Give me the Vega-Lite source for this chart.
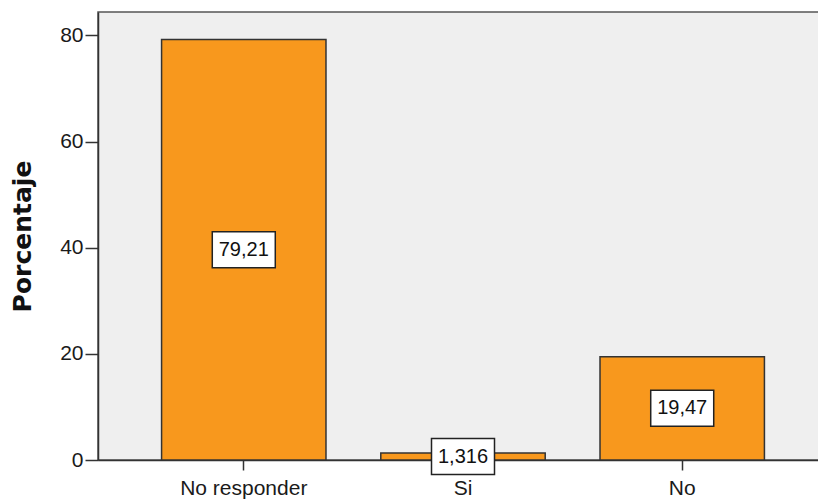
{
  "$schema": "https://vega.github.io/schema/vega-lite/v6.json",
  "autosize": {"type": "none"},
  "padding": {"left": 98, "top": 12, "right": 0, "bottom": 39},
  "width": 730,
  "height": 448,
  "background": "white",
  "config": {
    "view": {"fill": "#efefef", "stroke": "#555555", "strokeWidth": 1.5},
    "font": "Liberation Sans"
  },
  "data": {
    "values": [
      {"cat": "No responder", "pct": 79.21, "label": "79,21"},
      {"cat": "Si", "pct": 1.316, "label": "1,316"},
      {"cat": "No", "pct": 19.47, "label": "19,47"}
    ]
  },
  "encoding": {
    "x": {
      "field": "cat", "type": "nominal", "sort": null,
      "scale": {"paddingInner": 0.25, "paddingOuter": 0.29},
      "axis": {
        "title": null, "labelAngle": 0, "labelFontSize": 21, "labelColor": "#1a1a1a",
        "domainColor": "#333", "domainWidth": 1.5, "tickColor": "#333", "tickWidth": 1.5,
        "tickSize": 10, "labelPadding": 7, "labelFont": "Liberation Sans"
      }
    }
  },
  "layer": [
    {
      "mark": {"type": "bar", "fill": "#f8981d", "stroke": "#333333", "strokeWidth": 1.5},
      "encoding": {
        "y": {
          "field": "pct", "type": "quantitative",
          "scale": {"domain": [0, 84.4], "nice": false},
          "axis": {
            "title": "Porcentaje", "titleFontSize": 25, "titleFontWeight": "bold", "titleColor": "#111",
            "titlePadding": 24, "values": [0, 20, 40, 60, 80], "grid": false,
            "labelFontSize": 21, "labelColor": "#1a1a1a", "domainColor": "#333", "domainWidth": 1.5,
            "tickColor": "#333", "tickWidth": 1.5, "tickSize": 13, "labelPadding": 2,
            "labelFont": "Liberation Sans", "titleFont": "DejaVu Sans"
          }
        }
      }
    },
    {
      "transform": [{"calculate": "datum.pct / 2", "as": "mid"}],
      "mark": {
        "type": "point", "filled": true, "fill": "white", "stroke": "#222", "strokeWidth": 1.5, "opacity": 1,
        "shape": "M-1,-0.57L1,-0.57L1,0.57L-1,0.57Z", "size": 3969
      },
      "encoding": {
        "y": {"field": "mid", "type": "quantitative", "scale": {"domain": [0, 84.4], "nice": false}}
      }
    },
    {
      "transform": [{"calculate": "datum.pct / 2", "as": "mid"}],
      "mark": {"type": "text", "fontSize": 20, "color": "#111", "font": "Liberation Sans", "baseline": "middle"},
      "encoding": {
        "y": {"field": "mid", "type": "quantitative", "scale": {"domain": [0, 84.4], "nice": false}},
        "text": {"field": "label"}
      }
    }
  ]
}
